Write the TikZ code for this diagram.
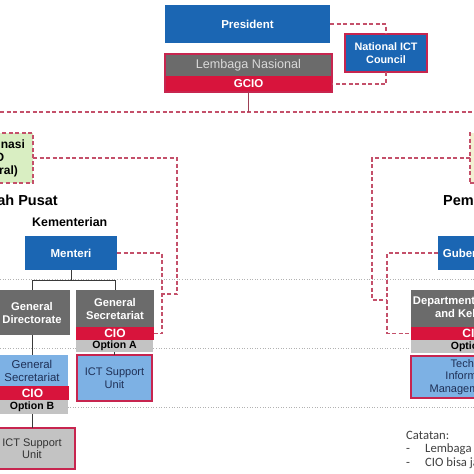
\documentclass[tikz,border=0pt]{standalone}
\usepackage{fontspec}
\setmainfont{Liberation Sans}
\newfontfamily\notefont{Carlito}
\usetikzlibrary{positioning, calc}
\definecolor{ictblue}{HTML}{1B66B3}
\definecolor{unitgray}{HTML}{6B6B6B}
\definecolor{ciored}{HTML}{D8143C}
\definecolor{optgray}{HTML}{C3C3C3}
\definecolor{lightblue}{HTML}{7DB1E4}
\definecolor{edgered}{HTML}{C7254F}
\definecolor{dashred}{HTML}{C4506A}
\definecolor{coordgreen}{HTML}{D9EEC2}
\definecolor{coordyellow}{HTML}{F3F0D2}
\definecolor{navytext}{HTML}{1F3056}
\definecolor{darkline}{HTML}{3A3A3A}

\tikzset{
  blk/.style 2 args={minimum width=#1pt, minimum height=#2pt, inner sep=0pt, outer sep=0pt, anchor=north west, align=center},
  headbox/.style={fill=ictblue, text=white, font=\bfseries\fontsize{11.5}{13}\selectfont},
  unitbox/.style={fill=unitgray, text=white, font=\bfseries\fontsize{11.2}{13}\selectfont},
  ciobox/.style={fill=ciored, text=white, font=\bfseries\fontsize{12}{13}\selectfont},
  optbox/.style={fill=optgray, text=black, font=\bfseries\fontsize{10.5}{12}\selectfont},
  supportbox/.style={fill=lightblue, draw=edgered, line width=1.3pt, text=navytext, font=\fontsize{11}{12.5}\selectfont},
  dline/.style={draw=dashred, line width=1.1pt, dash pattern=on 4pt off 2.5pt},
  tline/.style={draw=darkline, line width=0.9pt},
  levelline/.style={draw=gray!60, line width=0.6pt, dotted},
  bigtitle/.style={font=\bfseries\fontsize{14.5}{16}\selectfont, inner sep=0pt},
  note/.style={font=\notefont\fontsize{12.7}{14}\selectfont, text=black!75, inner sep=0pt, anchor=west}
}

\begin{document}
\begin{tikzpicture}[x=1pt, y=-1pt]
  \useasboundingbox (0,0) rectangle (474,474);
  \clip (0,0) rectangle (474,474);
  % garis level (latar)
  \foreach \y in {279, 348, 407} {
    \draw[levelline] (0,\y) -- (474,\y);
  }

  % tingkat nasional
  \node[blk={165}{38}, headbox] (president) at (165,5) {President};
  \node[blk={167}{22}, fill=unitgray, text=white!85!black, font=\fontsize{12.6}{14}\selectfont] (lembaga) at (165,54) {Lembaga Nasional};
  \node[blk={167}{16}, ciobox, font=\bfseries\fontsize{11.5}{13}\selectfont] (gcio) at (165,76) {GCIO};
  \draw[edgered, line width=1.2pt] (lembaga.north west) rectangle (gcio.south east);
  \node[blk={82}{38}, headbox, draw=edgered, line width=1.3pt, font=\bfseries\fontsize{10.8}{13}\selectfont] (council) at (345,34) {National ICT\\Council};
  \draw[dline] (president.east) -| (council.north);
  \draw[dline] (council.south) |- (gcio.east);
  \coordinate (pusatL) at (0,112);
  \coordinate (pusatR) at (474,112);
  \draw[dline] (pusatL) -- (pusatR);
  \draw[tline, draw=dashred!80!black] (gcio.south) -- (gcio.south |- pusatL);

  % forum koordinasi
  \node[blk={79}{50}, fill=coordgreen, draw=dashred, line width=1.4pt, dash pattern=on 4pt off 2.5pt, font=\bfseries\fontsize{12}{13}\selectfont] (greenL) at (-46,133) {Koordinasi\\CIO\\(Sentral)};
  \node[blk={73}{50}, fill=coordyellow, draw=dashred, line width=1.4pt, dash pattern=on 4pt off 2.5pt] (greenR) at (470,133) {};

  % pemerintah pusat
  \node[bigtitle, anchor=east] (pusat) at (58,200) {Pemerintah Pusat};
  \node[font=\bfseries\fontsize{12.4}{14}\selectfont, inner sep=0pt, anchor=west] (kementerian) at (32,222) {Kementerian};
  \node[blk={92}{34}, headbox] (menteri) at (25,236) {Menteri};
  \node[blk={76}{45}, unitbox] (gd) at (-6,290) {General\\Directorate};
  \node[blk={78}{37}, unitbox] (gsA) at (76,290) {General\\Secretariat};
  \node[blk={78}{13}, ciobox] (cioA) at (76,327) {CIO};
  \node[blk={77}{12}, optbox] (optA) at (76,340) {Option A};
  \node[blk={75}{46}, supportbox] (ictA) at (77,355) {ICT Support\\Unit};
  \node[blk={72}{31}, fill=lightblue, text=navytext, font=\fontsize{11.4}{13}\selectfont] (gsB) at (-4,355) {General\\Secretariat};
  \node[blk={73}{14}, ciobox] (cioB) at (-4,386) {CIO};
  \node[blk={72}{14}, optbox] (optB) at (-4,400) {Option B};
  \node[blk={86}{41}, supportbox, fill=optgray, text=black!80] (ictB) at (-11,428) {ICT Support\\Unit};
  \draw[tline] (menteri.south) -- ++(0,10) -| (gd.north);
  \draw[tline] (menteri.south) -- ++(0,10) -| (gsA.north);
  \draw[tline] (optA.south) -- (ictA.north);
  \draw[tline] (gd.south) -- (gsB.north);
  \draw[tline] (optB.south) -- (ictB.north);
  \coordinate (jointL) at (162,294);
  \draw[dline] (greenL.east) -- ++(144,0) |- (jointL);
  \draw[dline] (menteri.east) -| (jointL) |- (cioA.east);

  % pemerintah daerah
  \node[bigtitle, anchor=west] (daerah) at (443,200) {Pemerintah Daerah};
  \node[blk={62}{34}, headbox] (gubernur) at (438,236) {Gubernur};
  \node[blk={124}{37}, unitbox] (dept) at (411,290) {Department of Comms\\and Kebijakan};
  \node[blk={124}{13}, ciobox] (cioC) at (411,327) {CIO};
  \node[blk={124}{13}, optbox] (optC) at (411,340) {Option C};
  \node[blk={124}{42}, supportbox] (tech) at (411,356) {Tech and\\Information\\Management Unit};
  \coordinate (jointR) at (387,300);
  \draw[dline] (greenR.west) -- ++(-98,0) |- (jointR);
  \draw[dline] (gubernur.west) -| (jointR) |- (cioC.west);

  % catatan
  \node[note] (catatan) at (406,435) {Catatan:};
  \node[note] (note1) at (406,449) {\makebox[19pt][l]{-}Lembaga Nasional setingkat kementerian};
  \node[note] (note2) at (406,463) {\makebox[19pt][l]{-}CIO bisa jabatan struktural};
\end{tikzpicture}
\end{document}
